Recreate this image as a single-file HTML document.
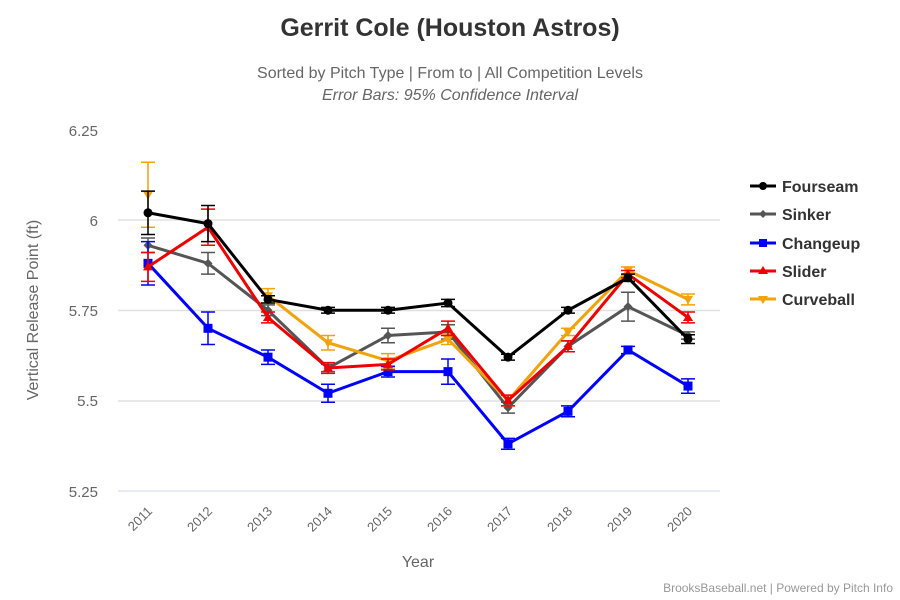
<!DOCTYPE html><html><head><style>body{margin:0;background:#fff}svg{display:block;font-family:"Liberation Sans",sans-serif}</style></head><body>
<svg width="900" height="600" viewBox="0 0 900 600">
<rect width="900" height="600" fill="#fff"/>
<text x="450" y="36" text-anchor="middle" font-size="25" font-weight="bold" fill="#333">Gerrit Cole (Houston Astros)</text>
<text x="450" y="78" text-anchor="middle" font-size="16" fill="#666">Sorted by Pitch Type | From to | All Competition Levels</text>
<text x="450" y="100" text-anchor="middle" font-size="16" font-style="italic" fill="#666">Error Bars: 95% Confidence Interval</text>
<g stroke="#e0e0e0" stroke-width="1.5">
<line x1="118" x2="720" y1="220" y2="220"/><line x1="118" x2="720" y1="310.5" y2="310.5"/><line x1="118" x2="720" y1="401" y2="401"/>
</g>
<line x1="118" x2="720" y1="491" y2="491" stroke="#ccd6eb"/>
<g font-size="15" fill="#666" text-anchor="end">
<text x="98" y="136">6.25</text><text x="98" y="226">6</text><text x="98" y="316">5.75</text><text x="98" y="406">5.5</text><text x="98" y="497">5.25</text>
</g>
<text transform="translate(38,310) rotate(-90)" text-anchor="middle" font-size="16" fill="#666">Vertical Release Point (ft)</text>
<g font-size="13" fill="#666" text-anchor="end" id="xl"></g>
<text x="418" y="567" text-anchor="middle" font-size="16" fill="#666">Year</text>
<text x="893" y="592" text-anchor="end" font-size="12" fill="#999">BrooksBaseball.net | Powered by Pitch Info</text>
<g id="plot"></g>
<g font-size="16" font-weight="bold" fill="#333">
<line x1="750" x2="776" y1="186" y2="186" stroke="#000" stroke-width="3"/><circle cx="763" cy="186" r="4" fill="#000"/><text x="782" y="192">Fourseam</text>
<line x1="750" x2="776" y1="214" y2="214" stroke="#555" stroke-width="3"/><path d="M763 210l4 4-4 4-4-4z" fill="#555"/><text x="782" y="220">Sinker</text>
<line x1="750" x2="776" y1="243" y2="243" stroke="#00f" stroke-width="3"/><rect x="759" y="239" width="8" height="8" fill="#00f"/><text x="782" y="249">Changeup</text>
<line x1="750" x2="776" y1="271" y2="271" stroke="#e00" stroke-width="3"/><path d="M763 266l5 8h-10z" fill="#e00"/><text x="782" y="277">Slider</text>
<line x1="750" x2="776" y1="299" y2="299" stroke="#f0a30a" stroke-width="3"/><path d="M763 304l5-8h-10z" fill="#f0a30a"/><text x="782" y="305">Curveball</text>
</g>
</svg>
<script>
const ns="http://www.w3.org/2000/svg";
const X=i=>148+i*60, Y=v=>220-(v-6)*361;
const xl=document.getElementById('xl');
for(let i=0;i<10;i++){const t=document.createElementNS(ns,'text');t.setAttribute('transform',`translate(${X(i)+5},${512}) rotate(-45)`);t.textContent=2011+i;xl.appendChild(t);}
const S=[
["#555","d",[[5.93,.02],[5.88,.03],[5.75,.015],[5.59,.01],[5.68,.02],[5.69,.02],[5.48,.015],[5.65,.015],[5.76,.04],[5.68,.01]]],
["#00f","s",[[5.88,.06],[5.70,.045],[5.62,.02],[5.52,.025],[5.58,.015],[5.58,.035],[5.38,.015],[5.47,.015],[5.64,.01],[5.54,.02]]],
["#f0a30a","v",[[6.07,.09],null,[5.79,.02],[5.66,.02],[5.61,.02],[5.67,.015],[5.50,.015],[5.69,.01],[5.86,.01],[5.78,.015]]],
["#e00","t",[[5.87,.04],[5.98,.05],[5.73,.015],[5.59,.015],[5.60,.015],[5.70,.02],[5.50,.015],[5.65,.015],[5.85,.01],[5.73,.015]]],
["#000","c",[[6.02,.06],[5.99,.05],[5.78,.01],[5.75,.008],[5.75,.008],[5.77,.01],[5.62,.008],[5.75,.008],[5.84,.01],[5.67,.012]]]];
const p=document.getElementById('plot');
function el(n,a){const e=document.createElementNS(ns,n);for(const k in a)e.setAttribute(k,a[k]);p.appendChild(e);return e;}
for(const [c,m,d] of S){
 let path="",pen=false;
 d.forEach((v,i)=>{if(!v){pen=false;return;}path+=(pen?"L":"M")+X(i)+" "+Y(v[0]);pen=true;});
 el('path',{d:path,fill:'none',stroke:c,'stroke-width':3});
 d.forEach((v,i)=>{if(!v)return;const x=X(i),y=Y(v[0]),a=Y(v[0]+v[1]),b=Y(v[0]-v[1]);
  el('path',{d:`M${x} ${a}V${b}M${x-7} ${a}h14M${x-7} ${b}h14`,stroke:c,'stroke-width':1.5,fill:'none'});
  if(m=='c')el('circle',{cx:x,cy:y,r:4.5,fill:c});
  if(m=='d')el('path',{d:`M${x} ${y-4.5}l4.5 4.5-4.5 4.5-4.5-4.5z`,fill:c});
  if(m=='s')el('rect',{x:x-4.5,y:y-4.5,width:9,height:9,fill:c});
  if(m=='t')el('path',{d:`M${x} ${y-5}l5 8.5h-10z`,fill:c});
  if(m=='v')el('path',{d:`M${x} ${y+5}l5-8.5h-10z`,fill:c});
 });
}
</script>
</body></html>
